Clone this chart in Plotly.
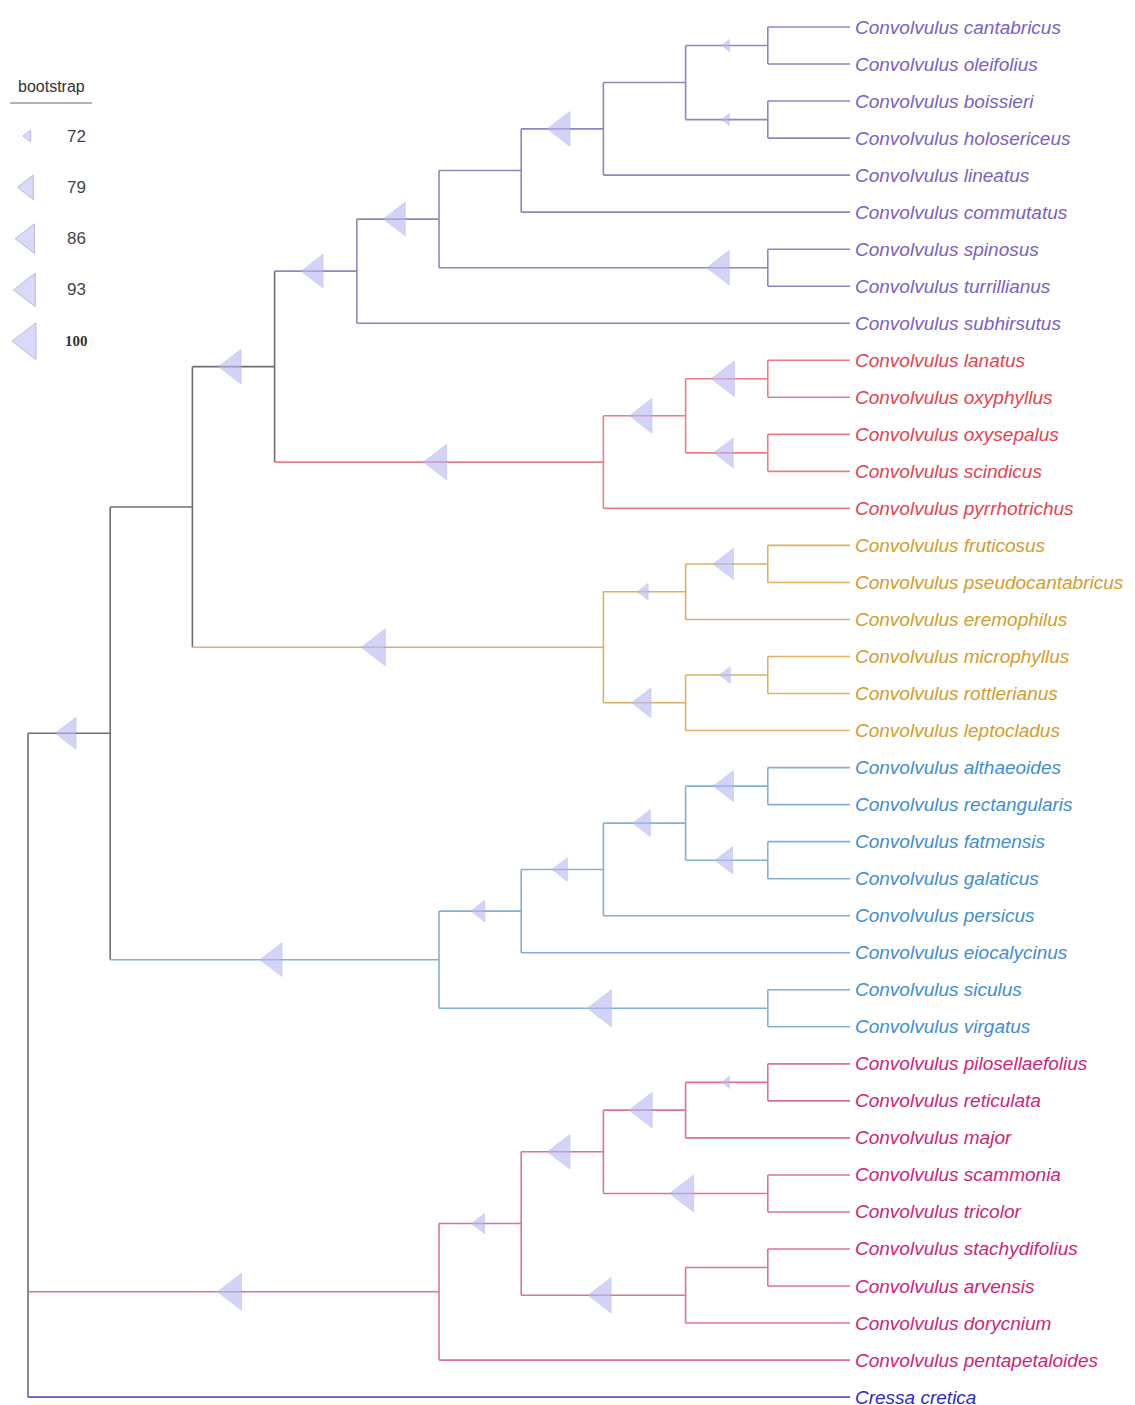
import numpy as np
import plotly.graph_objects as go

# ---------------- data ----------------
# Tree topology (Newick); internal-node labels are bootstrap values
TREE_NEWICK = (
    "((((((((((Convolvulus cantabricus,Convolvulus oleifolius)72,"
    "(Convolvulus boissieri,Convolvulus holosericeus)72),Convolvulus lineatus)95,"
    "Convolvulus commutatus),(Convolvulus spinosus,Convolvulus turrillianus)95)93,"
    "Convolvulus subhirsutus)93,"
    "(((Convolvulus lanatus,Convolvulus oxyphyllus)97,(Convolvulus oxysepalus,Convolvulus scindicus)86)95,"
    "Convolvulus pyrrhotrichus)97)95,"
    "(((Convolvulus fruticosus,Convolvulus pseudocantabricus)88,Convolvulus eremophilus)73,"
    "((Convolvulus microphyllus,Convolvulus rottlerianus)73,Convolvulus leptocladus)86)100),"
    "(((((Convolvulus althaeoides,Convolvulus rectangularis)88,(Convolvulus fatmensis,Convolvulus galaticus)82)82,"
    "Convolvulus persicus)78,Convolvulus eiocalycinus)76,(Convolvulus siculus,Convolvulus virgatus)100)93)90,"
    "(((((Convolvulus pilosellaefolius,Convolvulus reticulata)72,Convolvulus major)97,"
    "(Convolvulus scammonia,Convolvulus tricolor)100)95,"
    "((Convolvulus stachydifolius,Convolvulus arvensis),Convolvulus dorycnium)97)75,"
    "Convolvulus pentapetaloides)100,Cressa cretica);"
)

# clade groups (in leaf order) and their sizes
GROUP_NAMES = ["purple", "red", "orange", "blue", "pink", "outgroup"]
GROUP_SIZES = [9, 5, 6, 8, 9, 1]
GROUP_TEXT_COLORS = ["#7a5fc6", "#e6424e", "#d49c2c", "#3f8dd4", "#cf2479", "#2b2bc8"]
GROUP_LINE_COLORS = ["#8c86c2", "#ec7d86", "#dcb165", "#84afd8", "#d972a2", "#5656c8"]
BACKBONE_COLOR = "#6e6e6e"

# bootstrap marker position along the branch (fraction), where not centred
MARKER_FRACTION = {
    "Convolvulus spinosus|Convolvulus turrillianus": 0.86,
    "Convolvulus fruticosus|Convolvulus leptocladus": 0.45,
}

LEGEND_TITLE = "bootstrap"
LEGEND_VALUES = [72, 79, 86, 93, 100]
BOOT_MIN, BOOT_MAX = 72, 100


# ---------------- parse tree ----------------
def parse_newick(s):
    s = s.strip().rstrip(";")
    pos = 0

    def node():
        nonlocal pos
        n = {"children": [], "name": "", "label": ""}
        if s[pos] == "(":
            pos += 1
            while True:
                n["children"].append(node())
                if s[pos] == ",":
                    pos += 1
                    continue
                if s[pos] == ")":
                    pos += 1
                    break
        start = pos
        while pos < len(s) and s[pos] not in ",()":
            pos += 1
        tok = s[start:pos].strip()
        if n["children"]:
            n["label"] = tok
        else:
            n["name"] = tok
        return n

    return node()


root = parse_newick(TREE_NEWICK)

leaves = []


def walk(n, parent=None):
    n["parent"] = parent
    if not n["children"]:
        n["y"] = len(leaves)
        n["height"] = 0
        leaves.append(n)
    else:
        for c in n["children"]:
            walk(c, n)
        n["y"] = float(np.mean([c["y"] for c in n["children"]]))
        n["height"] = 1 + max(c["height"] for c in n["children"])


walk(root)
H = root["height"]

leaf_group = []
for gi, sz in enumerate(GROUP_SIZES):
    leaf_group += [gi] * sz
for lf, g in zip(leaves, leaf_group):
    lf["group"] = g


def assign(n):
    n["x"] = H - n["height"]
    if not n["children"]:
        n["leafset"] = [n]
        return
    n["leafset"] = []
    for c in n["children"]:
        assign(c)
        n["leafset"] += c["leafset"]
    gs = {l["group"] for l in n["leafset"]}
    n["group"] = gs.pop() if len(gs) == 1 else None


assign(root)

all_nodes = []


def collect(n):
    all_nodes.append(n)
    for c in n["children"]:
        collect(c)


collect(root)


def line_color(n):
    return BACKBONE_COLOR if n["group"] is None else GROUP_LINE_COLORS[n["group"]]


# ---------------- segments ----------------
segs = {}
for n in all_nodes:
    col = line_color(n)
    xs, ys = segs.setdefault(col, ([], []))
    if n["parent"] is not None:
        xs += [n["parent"]["x"], n["x"], None]
        ys += [n["y"], n["y"], None]
    if n["children"]:
        ys_c = [c["y"] for c in n["children"]]
        xs += [n["x"], n["x"], None]
        ys += [min(ys_c), max(ys_c), None]


def tri_size(b):
    t = (b - BOOT_MIN) / (BOOT_MAX - BOOT_MIN)
    height = 12 + 25 * np.sqrt(max(t, 0))
    return height / 1.1547


fig = go.Figure()
for col, (xs, ys) in segs.items():
    fig.add_trace(go.Scatter(x=xs, y=ys, mode="lines",
                             line=dict(color=col, width=1.6),
                             hoverinfo="skip", showlegend=False))

# bootstrap markers
mx, my, ms = [], [], []
for n in all_nodes:
    if n["children"] and n["label"] and n["parent"] is not None:
        b = float(n["label"])
        key = n["leafset"][0]["name"] + "|" + n["leafset"][-1]["name"]
        f = MARKER_FRACTION.get(key, 0.5)
        px = n["parent"]["x"]
        mx.append(px + f * (n["x"] - px))
        my.append(n["y"])
        ms.append(tri_size(b))
fig.add_trace(go.Scatter(x=mx, y=my, mode="markers",
                         marker=dict(symbol="triangle-left", size=ms,
                                     color="rgba(184,184,242,0.88)",
                                     line=dict(color="rgba(160,160,222,0.9)", width=0.6)),
                         hoverinfo="skip", showlegend=False))

# tip labels
for lf in leaves:
    fig.add_annotation(x=lf["x"], y=lf["y"], xref="x", yref="y",
                       text="<i>" + lf["name"] + "</i>", showarrow=False,
                       xanchor="left", yanchor="middle", xshift=3,
                       font=dict(family="Liberation Sans, Arial",
                                 size=19, color=GROUP_TEXT_COLORS[lf["group"]]))

# ---------------- layout ----------------
# page body has an 8px margin; the figure fills the rest of the window
PAGE_PAD = 8
WIN_W, WIN_H = 1135, 1405
W, HGT = WIN_W - PAGE_PAD, WIN_H - PAGE_PAD
x0_px, unit_x = 28 - PAGE_PAD, 82.2
y0_px, unit_y = 27 - PAGE_PAD, 37.03
xr = [-x0_px / unit_x, (W - x0_px) / unit_x]
yr = [(HGT - y0_px) / unit_y, -y0_px / unit_y]

# legend (window-pixel overlay axes)
leg_y = [136 + 51.3 * i for i in range(len(LEGEND_VALUES))]
fig.add_trace(go.Scatter(x=[28] * len(LEGEND_VALUES), y=leg_y, mode="markers",
                         xaxis="x2", yaxis="y2",
                         marker=dict(symbol="triangle-left",
                                     size=[tri_size(v) for v in LEGEND_VALUES],
                                     color="rgba(196,196,246,0.9)",
                                     line=dict(color="rgba(130,130,190,0.9)", width=0.8)),
                         hoverinfo="skip", showlegend=False))
for v, yy in zip(LEGEND_VALUES, leg_y):
    if v == 100:
        fnt = dict(family="Liberation Serif, Times New Roman", size=15, color="#333333")
        txt = "<b>" + str(v) + "</b>"
    else:
        fnt = dict(family="Liberation Sans, Arial", size=17, color="#444444")
        txt = str(v)
    fig.add_annotation(x=76, y=yy, xref="x2", yref="y2", text=txt, showarrow=False,
                       xanchor="center", yanchor="middle", font=fnt)
fig.add_annotation(x=51, y=86, xref="x2", yref="y2", text=LEGEND_TITLE, showarrow=False,
                   xanchor="center", yanchor="middle",
                   font=dict(family="Liberation Sans, Arial", size=16, color="#333333"))
fig.add_shape(type="line", x0=10, x1=92, y0=103, y1=103, xref="x2", yref="y2",
              line=dict(color="#9a9a9a", width=1.5))

fig.update_layout(
    width=W, height=HGT,
    margin=dict(l=0, r=0, t=0, b=0),
    paper_bgcolor="white", plot_bgcolor="white",
    showlegend=False,
    xaxis=dict(range=xr, visible=False, fixedrange=True),
    yaxis=dict(range=yr, visible=False, fixedrange=True),
    xaxis2=dict(range=[PAGE_PAD, WIN_W], visible=False, overlaying="x", fixedrange=True),
    yaxis2=dict(range=[WIN_H, PAGE_PAD], visible=False, overlaying="y", fixedrange=True),
)

fig.write_html("out.html")
